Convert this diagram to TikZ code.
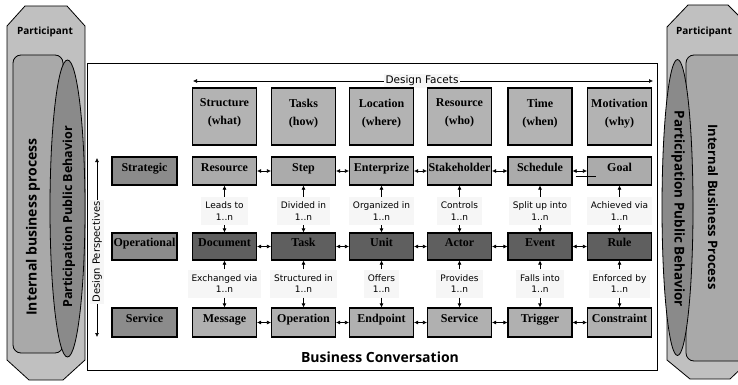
\documentclass[tikz,border=0pt]{standalone}
\usepackage{fontspec}
\setmainfont{Liberation Serif}
\newfontfamily\cfont{Open Sans}
\newfontfamily\lfont{DejaVu Sans}
\usetikzlibrary{arrows.meta,shapes.geometric}
\definecolor{hdrc}{HTML}{B3B3B3}
\definecolor{rac}{HTML}{ABABAB}
\definecolor{rbc}{HTML}{5F5F5F}
\definecolor{rcc}{HTML}{B0B0B0}
\definecolor{perc}{HTML}{8B8B8B}
\definecolor{outc}{HTML}{C0C0C0}
\definecolor{innc}{HTML}{A9A9A9}
\definecolor{ellc}{HTML}{8A8A8A}
\definecolor{labc}{HTML}{F6F6F6}
\tikzset{
  box/.style={draw, line width=1.1pt, minimum width=64pt, minimum height=28pt, inner sep=1pt,
    font=\bfseries\fontsize{12}{13}\selectfont, align=center, text height=8pt, text depth=8pt},
  hdr/.style={draw, line width=1.1pt, minimum width=64pt, inner sep=1pt, align=center,
    font=\bfseries\fontsize{12}{18}\selectfont, fill=hdrc, minimum height=57pt, text depth=9pt},
  ra/.style={box, fill=rac},
  rb/.style={box, fill=rbc, minimum height=27pt},
  rc/.style={box, fill=rcc, minimum height=29pt},
  persp/.style={box, fill=perc, minimum width=65pt},
  lab/.style={fill=labc, font=\lfont\fontsize{9}{11.5}\selectfont, align=center,
    inner xsep=4pt, inner ysep=2pt, minimum height=28pt},
  harr/.style={{Latex[length=4pt,width=4pt]}-{Latex[length=4pt,width=4pt]}, line width=0.6pt},
  varr/.style={-{Latex[length=4pt,width=4pt]}, line width=0.6pt},
  partshape/.style={draw, line width=0.8pt, fill=outc},
  innrect/.style={draw, line width=0.8pt, fill=innc, rounded corners=8pt},
  ellshape/.style={draw, line width=0.8pt, fill=ellc},
  bigtxt/.style={font=\cfont\bfseries\fontsize{#1}{#1}\selectfont},
}
\begin{document}
\begin{tikzpicture}[x=1pt,y=-1pt]
\useasboundingbox (0,0) rectangle (738,385);
\clip (0,0) rectangle (738,385);
% left participant
\draw[partshape] (7,26) -- (25,6) -- (67,6) -- (85,26) -- (85,360) -- (63,380) -- (29,380) -- (7,360) -- cycle;
\draw[innrect] (13,55) rectangle (63,353);
\draw[ellshape] (67.5,208.5) ellipse [x radius=17.5, y radius=148.5];
\node[bigtxt=10] (lp) at (45,32) {Participant};
\node[bigtxt=14, rotate=90] (lib) at (33,227) {Internal business process};
\node[bigtxt=12.5, rotate=90] (lpb) at (69,217) {Participation Public Behavior};
% right participant
\draw[partshape] (667,27) -- (688,5) -- (728,5) -- (750,27) -- (750,360) -- (730,379) -- (690,379) -- (667,360) -- cycle;
\draw[innrect] (686,55) rectangle (752,361);
\draw[ellshape] (677.5,207.5) ellipse [x radius=15.5, y radius=148];
\node[bigtxt=10] (rp) at (704,32) {Participant};
\node[bigtxt=13.5, rotate=-90] (rpb) at (678,209) {Participation Public Behavior};
\node[bigtxt=13, rotate=-90] (rib) at (713,207) {Internal Business Process};
% main frame
\draw[line width=0.8pt, fill=white] (87,63) rectangle (657,370);
% design facets
\coordinate (dfl) at (193,81);
\coordinate (dfr) at (653,81);
\draw[harr] (dfl) -- (dfr);
\node[fill=labc, font=\lfont\fontsize{10.5}{12}\selectfont, inner sep=2pt] (df) at (422,81) {Design Facets};
% design perspectives
\coordinate (dpt) at (97,158);
\coordinate (dpb) at (97,337);
\draw[harr] (dpt) -- (dpb);
\node[fill=labc, rotate=90, font=\lfont\fontsize{10}{12}\selectfont, inner sep=2pt] (dp) at (97,252) {Design Perspectives};
% perspective boxes
\node[persp] (ps) at (144.5,171) {Strategic};
\node[persp, minimum height=27pt] (po) at (144.5,246.5) {Operational};
\node[persp, minimum height=29pt] (pv) at (144.5,322.5) {Service};
% grid
\foreach \i/\x/\h/\a/\b/\c/\la/\lb in {
  1/224.5/{Structure\\(what)}/Resource/Document/Message/{Leads to}/{Exchanged via},
  2/303.5/{Tasks\\(how)}/Step/Task/Operation/{Divided in}/{Structured in},
  3/381.5/{Location\\(where)}/Enterprize/Unit/Endpoint/{Organized in}/{Offers},
  4/459.5/{Resource\\(who)}/Stakeholder/Actor/Service/{Controls}/{Provides},
  5/540/{Time\\(when)}/Schedule/Event/Trigger/{Split up into}/{Falls into},
  6/619.5/{Motivation\\(why)}/Goal/Rule/Constraint/{Achieved via}/{Enforced by}}{
  \node[hdr] (h\i) at (\x,116.5) {\h};
  \node[ra] (a\i) at (\x,171) {\a};
  \node[rb] (b\i) at (\x,246.5) {\b};
  \node[rc] (c\i) at (\x,322.5) {\c};
  \node[lab] (la\i) at (\x,211) {\la\\1..n};
  \node[lab] (lb\i) at (\x,283.5) {\lb\\1..n};
  \draw[varr] (la\i) -- (a\i);
  \draw[varr] (la\i) -- (b\i);
  \draw[varr] (lb\i) -- (b\i);
  \draw[varr] (lb\i) -- (c\i);
}
\foreach \i/\j in {1/2,2/3,3/4,4/5,5/6}{
  \draw[harr] (a\i) -- (a\j);
  \draw[harr] (b\i) -- (b\j);
  \draw[harr] (c\i) -- (c\j);
}
\draw[line width=0.6pt] (a5.east) ++(3,5) -- ++(20,0);
\node[bigtxt=14] (bc) at (380,357) {Business Conversation};
\end{tikzpicture}
\end{document}
